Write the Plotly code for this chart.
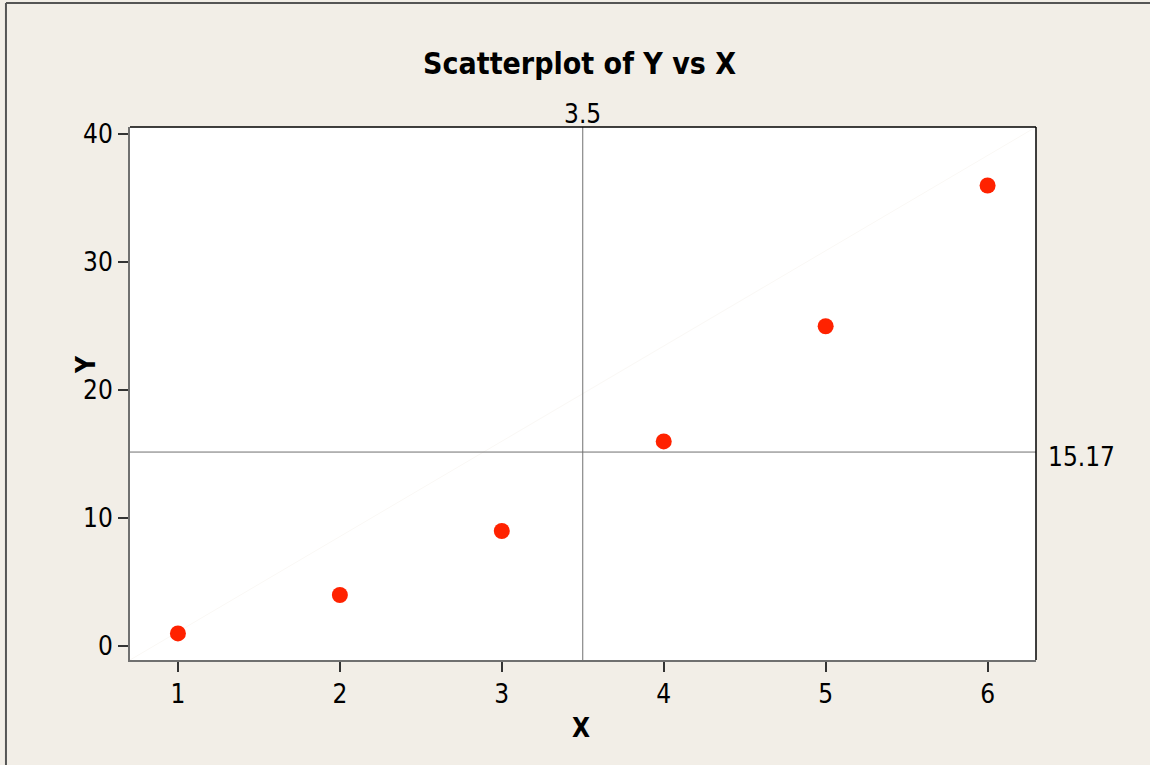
import plotly.graph_objects as go

x_vals = [1, 2, 3, 4, 5, 6]
y_vals = [1, 4, 9, 16, 25, 36]
x_ref = 3.5
y_ref = 15.17
x_ticks = [1, 2, 3, 4, 5, 6]
y_ticks = [0, 10, 20, 30, 40]
title_text = "Scatterplot of Y vs X"
x_title = "X"
y_title = "Y"

FONT = "DejaVu Sans Condensed, DejaVu Sans, sans-serif"
BG = "#f2eee7"
AX = "#707070"
TICK_SIZE = 26

fig = go.Figure()
fig.add_trace(go.Scatter(
    x=x_vals, y=y_vals, mode="markers",
    marker=dict(color="#ff2200", size=16, line=dict(width=0)),
    showlegend=False, hoverinfo="x+y",
))

shapes = [
    # faint diagonal
    dict(type="line", xref="paper", yref="paper", x0=0, y0=0, x1=1, y1=1,
         line=dict(color="#faf8f5", width=1), layer="below"),
    # reference lines
    dict(type="line", xref="x", yref="paper", x0=x_ref, x1=x_ref, y0=0, y1=1,
         line=dict(color=AX, width=1)),
    dict(type="line", xref="paper", yref="y", x0=0, x1=1, y0=y_ref, y1=y_ref,
         line=dict(color=AX, width=1)),
    # top and right box edges (black)
    dict(type="line", xref="paper", yref="paper", x0=0, x1=1, y0=1, y1=1,
         line=dict(color="black", width=1.5)),
    dict(type="line", xref="paper", yref="paper", x0=1, x1=1, y0=0, y1=1,
         line=dict(color="black", width=1.5)),
    # outer figure border (top and left)
    dict(type="line", xref="paper", yref="paper", x0=-0.1369, x1=1.13, y0=1.2326, y1=1.2326,
         line=dict(color="#555555", width=2)),
    dict(type="line", xref="paper", yref="paper", x0=-0.1369, x1=-0.1369, y0=-0.2, y1=1.2326,
         line=dict(color="#555555", width=2)),
]

annotations = [
    dict(text=str(x_ref), x=x_ref, xref="x", y=1, yref="paper", yanchor="bottom",
         xanchor="center", showarrow=False, yshift=-4,
         font=dict(family=FONT, size=TICK_SIZE, color="black")),
    dict(text=f"{y_ref:.2f}", x=1, xref="paper", y=y_ref, yref="y", xanchor="left",
         yanchor="middle", showarrow=False, xshift=10, yshift=-5,
         font=dict(family=FONT, size=TICK_SIZE, color="black")),
    # axis titles
    dict(text="<b>" + x_title + "</b>", x=0.5, xref="paper", y=(660 - 728) / 533, yref="paper",
         xanchor="center", yanchor="middle", showarrow=False, xshift=-2,
         font=dict(family=FONT, size=26, color="black")),
    dict(text="<b>" + y_title + "</b>", x=(86 - 130) / 906, xref="paper", y=(660 - 365) / 533,
         yref="paper", xanchor="center", yanchor="middle", showarrow=False, textangle=-90,
         font=dict(family=FONT, size=26, color="black")),
]

fig.update_layout(
    width=1150, height=765,
    paper_bgcolor=BG, plot_bgcolor="white",
    margin=dict(l=130, r=114, t=127, b=105),
    title=dict(text="<b>" + title_text + "</b>", x=0.504, xanchor="center",
               y=1 - 63 / 765, yanchor="middle",
               font=dict(family=FONT, size=30, color="black")),
    shapes=shapes, annotations=annotations,
    font=dict(family=FONT, size=TICK_SIZE, color="black"),
)
fig.update_xaxes(
    range=[0.704, 6.299], tickvals=x_ticks, ticktext=[str(v) for v in x_ticks],
    showgrid=False, zeroline=False, showline=True, linecolor=AX, linewidth=2,
    ticks="outside", ticklen=10, tickwidth=1.5, tickcolor="#333333",
    tickfont=dict(family=FONT, size=TICK_SIZE, color="black"),
)
fig.update_yaxes(
    range=[-1.08, 40.57], tickvals=y_ticks, ticktext=[str(v) for v in y_ticks],
    showgrid=False, zeroline=False, showline=True, linecolor=AX, linewidth=2,
    ticks="outside", ticklen=10, tickwidth=1.5, tickcolor="#333333",
    tickfont=dict(family=FONT, size=TICK_SIZE, color="black"),
)

fig.write_html(
    "out.html",
    config={"displayModeBar": False},
    post_script="document.body.style.margin='0';document.body.style.overflow='hidden';",
)
